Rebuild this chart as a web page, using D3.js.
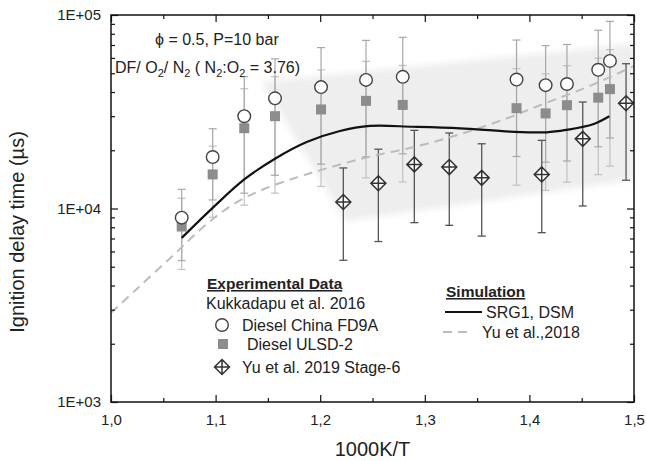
<!DOCTYPE html>
<html>
<head>
<meta charset="utf-8">
<script src="https://cdn.jsdelivr.net/npm/d3@7"></script>
<style>
  body { margin: 0; background: #fff; }
  svg { display: block; font-family: "Liberation Sans", Arial, sans-serif; }
</style>
</head>
<body>
<svg id="chart" width="646" height="461"></svg>
<script>
// Kukkadapu et al. 2016 measurements (1000K/T, ignition delay in µs)
const kukkadapuX   = [1.0676, 1.0972, 1.1274, 1.1568, 1.2008, 1.2438, 1.2789, 1.3877, 1.4155, 1.4359, 1.4658, 1.4770];
const fd9aTau      = [8970, 18450, 30000, 37100, 42400, 46200, 47900, 46400, 43400, 44000, 52100, 57900];
const ulsd2Tau     = [8070, 15000, 26000, 30000, 32500, 36000, 34300, 33000, 31000, 34200, 37400, 41400];
const kukkadapuErr = [0.4, 0.4, 0.6, 0.6, 0.6, 0.6, 0.6, 0.6, 0.6, 0.6, 0.6, 0.6];

// Yu et al. 2019 Stage-6
const yuX   = [1.2221, 1.2556, 1.2900, 1.3234, 1.3544, 1.4118, 1.4510, 1.4924];
const yuTau = [10800, 13500, 16900, 16370, 14400, 15000, 22900, 35000];
const yuErr = [0.5, 0.5, 0.5, 0.5, 0.5, 0.5, 0.55, 0.6];

// Simulations
const srg1X   = [1.0676, 1.0972, 1.1274, 1.1568, 1.1871, 1.2189, 1.2476, 1.2887, 1.3337, 1.3815, 1.4165, 1.4357, 1.4608, 1.4764];
const srg1Tau = [7050, 10080, 14130, 18090, 22060, 25150, 26700, 26450, 25970, 24970, 24760, 25510, 27240, 29970];
const yu2018X   = [1.000, 1.0249, 1.0602, 1.0899, 1.1166, 1.1453, 1.1778, 1.2027, 1.2447, 1.2925, 1.3365, 1.3786, 1.4101, 1.4551, 1.500];
const yu2018Tau = [2890, 3850, 5780, 8170, 10490, 12540, 14480, 15930, 18380, 20960, 24470, 29270, 34180, 42370, 54500];

// Shaded uncertainty band
const bandX   = [1.144, 1.5, 1.5, 1.224];
const bandTau = [45000, 71000, 14100, 8600];

// Axes
const xTicks      = [1.0, 1.1, 1.2, 1.3, 1.4, 1.5];
const xTickLabels = ["1,0", "1,1", "1,2", "1,3", "1,4", "1,5"];
const xMinor      = [1.05, 1.15, 1.25, 1.35, 1.45];
const yTicks      = [1e3, 1e4, 1e5];
const yTickLabels = ["1E+03", "1E+04", "1E+05"];
const yMinor      = [2e3,3e3,4e3,5e3,6e3,7e3,8e3,9e3,2e4,3e4,4e4,5e4,6e4,7e4,8e4,9e4];

const svg = d3.select("#chart");
const L = 111, R = 634, T = 15, B = 402;

const x = d3.scaleLinear().domain([1.0, 1.5]).range([L, R]);
const y = d3.scaleLog().domain([1e3, 1e5]).range([B, T]);

// band
const defs = svg.append("defs");
defs.append("filter").attr("id", "soft")
  .attr("x", "-10%").attr("y", "-10%").attr("width", "120%").attr("height", "120%")
  .append("feGaussianBlur").attr("stdDeviation", 3);
defs.append("clipPath").attr("id", "plotClip")
  .append("rect").attr("x", L).attr("y", T).attr("width", R - L).attr("height", B - T);

const plot = svg.append("g").attr("clip-path", "url(#plotClip)");
plot.append("polygon")
  .attr("points", bandX.map((v, i) => [x(v), y(bandTau[i])].join(",")).join(" "))
  .attr("fill", "#eeeeee")
  .attr("filter", "url(#soft)");

// axes
function styleAxis(g) {
  g.select(".domain").remove();
  g.selectAll(".tick line").attr("stroke", "#111").attr("stroke-width", 1.2);
  g.selectAll(".tick text").attr("fill", "#222").attr("font-size", 15)
    .attr("font-family", "'Liberation Sans', Arial, sans-serif");
}
const fmtX = d => xTickLabels[xTicks.indexOf(d)];
const fmtY = d => yTickLabels[yTicks.indexOf(d)];

svg.append("g").attr("transform", `translate(0,${B})`)
  .call(d3.axisBottom(x).tickValues(xTicks).tickFormat(fmtX).tickSize(-7).tickPadding(12)).call(styleAxis);
svg.append("g").attr("transform", `translate(0,${B})`)
  .call(d3.axisBottom(x).tickValues(xMinor).tickFormat("").tickSize(-4)).call(styleAxis);
svg.append("g").attr("transform", `translate(0,${T})`)
  .call(d3.axisTop(x).tickValues(xTicks).tickFormat("").tickSize(-7)).call(styleAxis);
svg.append("g").attr("transform", `translate(0,${T})`)
  .call(d3.axisTop(x).tickValues(xMinor).tickFormat("").tickSize(-4)).call(styleAxis);

svg.append("g").attr("transform", `translate(${L},0)`)
  .call(d3.axisLeft(y).tickValues(yTicks).tickFormat(fmtY).tickSize(-7).tickPadding(10)).call(styleAxis);
svg.append("g").attr("transform", `translate(${L},0)`)
  .call(d3.axisLeft(y).tickValues(yMinor).tickFormat("").tickSize(-4)).call(styleAxis);
svg.append("g").attr("transform", `translate(${R},0)`)
  .call(d3.axisRight(y).tickValues(yTicks).tickFormat("").tickSize(-7)).call(styleAxis);
svg.append("g").attr("transform", `translate(${R},0)`)
  .call(d3.axisRight(y).tickValues(yMinor).tickFormat("").tickSize(-4)).call(styleAxis);

svg.append("rect").attr("x", L).attr("y", T).attr("width", R - L).attr("height", B - T)
  .attr("fill", "none").attr("stroke", "#111").attr("stroke-width", 1.5);

// error bars
function errorBars(xs, taus, errs, color, width) {
  const g = plot.append("g").attr("stroke", color).attr("stroke-width", width).attr("fill", "none");
  xs.forEach((xv, i) => {
    const lo = taus[i] * (1 - errs[i]), hi = taus[i] * (1 + errs[i]);
    const cx = x(xv);
    g.append("line").attr("x1", cx).attr("x2", cx).attr("y1", y(lo)).attr("y2", y(hi));
    g.append("line").attr("x1", cx - 4).attr("x2", cx + 4).attr("y1", y(lo)).attr("y2", y(lo));
    g.append("line").attr("x1", cx - 4).attr("x2", cx + 4).attr("y1", y(hi)).attr("y2", y(hi));
  });
}
errorBars(kukkadapuX, ulsd2Tau, kukkadapuErr, "#c2c2c2", 1.2);
errorBars(kukkadapuX, fd9aTau, kukkadapuErr, "#a8a8a8", 1.2);
errorBars(yuX, yuTau, yuErr, "#555", 1.3);

// simulation curves
const line = d3.line().x(d => x(d[0])).y(d => y(d[1])).curve(d3.curveCatmullRom.alpha(0.5));
plot.append("path").datum(yu2018X.map((v, i) => [v, yu2018Tau[i]]))
  .attr("d", line).attr("fill", "none").attr("stroke", "#bcbcbc")
  .attr("stroke-width", 2).attr("stroke-dasharray", "9,6");
plot.append("path").datum(srg1X.map((v, i) => [v, srg1Tau[i]]))
  .attr("d", line).attr("fill", "none").attr("stroke", "#111").attr("stroke-width", 2.2);

// markers
function diamond(g, cx, cy, h) {
  g.append("path")
    .attr("d", `M${cx},${cy - h}L${cx + h},${cy}L${cx},${cy + h}L${cx - h},${cy}Z M${cx - h},${cy}H${cx + h} M${cx},${cy - h}V${cy + h}`)
    .attr("fill", "#fff").attr("stroke", "#333").attr("stroke-width", 1.5);
}
const mk = plot.append("g");
kukkadapuX.forEach((v, i) => {
  mk.append("rect").attr("x", x(v) - 5).attr("y", y(ulsd2Tau[i]) - 5).attr("width", 10).attr("height", 10)
    .attr("fill", "#8c8c8c");
});
kukkadapuX.forEach((v, i) => {
  mk.append("circle").attr("cx", x(v)).attr("cy", y(fd9aTau[i])).attr("r", 6.3)
    .attr("fill", "#fff").attr("stroke", "#444").attr("stroke-width", 1.4);
});
yuX.forEach((v, i) => diamond(mk, x(v), y(yuTau[i]), 7.5));

// annotations
const ann = svg.append("g").attr("fill", "#222").attr("font-size", 16);
ann.append("text").attr("x", 155).attr("y", 45).text("ϕ = 0.5, P=10 bar");
const t2 = ann.append("text").attr("x", 115).attr("y", 73);
t2.append("tspan").text("DF/ O");
t2.append("tspan").attr("font-size", 11).attr("dy", 4).text("2");
t2.append("tspan").attr("dy", -4).text("/ N");
t2.append("tspan").attr("font-size", 11).attr("dy", 4).text("2");
t2.append("tspan").attr("dy", -4).text(" ( N");
t2.append("tspan").attr("font-size", 11).attr("dy", 4).text("2");
t2.append("tspan").attr("dy", -4).text(":O");
t2.append("tspan").attr("font-size", 11).attr("dy", 4).text("2");
t2.append("tspan").attr("dy", -4).text(" = 3.76)");

// axis titles
svg.append("text").attr("x", (L + R) / 2).attr("y", 456).attr("text-anchor", "middle")
  .attr("font-size", 20).attr("fill", "#222").text("1000K/T");
svg.append("text").attr("transform", "translate(24,232) rotate(-90)").attr("text-anchor", "middle")
  .attr("font-size", 20).attr("fill", "#222").text("Ignition delay time (µs)");

// legend: experimental data
const lg = svg.append("g").attr("fill", "#222").attr("font-size", 16);
lg.append("text").attr("x", 207).attr("y", 289).attr("font-weight", "bold").attr("font-size", 15.5)
  .attr("text-decoration", "underline").text("Experimental Data");
lg.append("text").attr("x", 206).attr("y", 309).text("Kukkadapu et al. 2016");
lg.append("circle").attr("cx", 222).attr("cy", 325).attr("r", 6.3)
  .attr("fill", "#fff").attr("stroke", "#444").attr("stroke-width", 1.4);
lg.append("text").attr("x", 242).attr("y", 331).text("Diesel China FD9A");
lg.append("rect").attr("x", 218).attr("y", 339).attr("width", 10).attr("height", 10).attr("fill", "#8c8c8c");
lg.append("text").attr("x", 247).attr("y", 350).text("Diesel ULSD-2");
diamond(lg, 222, 367, 7.5);
lg.append("text").attr("x", 242).attr("y", 373).text("Yu et al. 2019 Stage-6");

// legend: simulation
lg.append("text").attr("x", 446).attr("y", 297).attr("font-weight", "bold").attr("font-size", 15.5)
  .attr("text-decoration", "underline").text("Simulation");
lg.append("line").attr("x1", 445).attr("x2", 482).attr("y1", 312).attr("y2", 312)
  .attr("stroke", "#111").attr("stroke-width", 2.2);
lg.append("text").attr("x", 486).attr("y", 318).text("SRG1, DSM");
lg.append("line").attr("x1", 443).attr("x2", 472).attr("y1", 332).attr("y2", 332)
  .attr("stroke", "#bcbcbc").attr("stroke-width", 2).attr("stroke-dasharray", "9,6");
lg.append("text").attr("x", 482).attr("y", 338).text("Yu et al.,2018");
</script>
</body>
</html>
